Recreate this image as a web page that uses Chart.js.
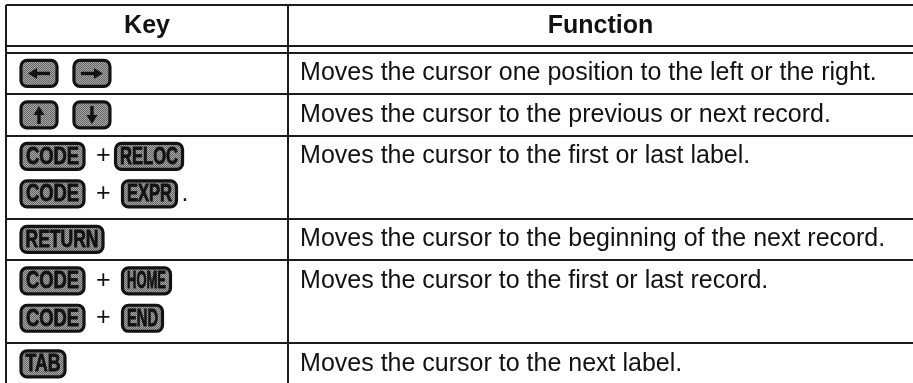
<!DOCTYPE html>
<html>
<head>
<meta charset="utf-8">
<script src="https://cdn.jsdelivr.net/npm/chart.js@4.4.0/dist/chart.umd.min.js"></script>
<style>
  html, body { margin: 0; padding: 0; background: #fff; }
  #wrap { width: 913px; height: 383px; position: relative; }
</style>
</head>
<body>
<div id="wrap"><canvas id="keyTable"></canvas></div>
<script>
// column headers
const headers = ['Key', 'Function'];

// key combos for each row, one string per text line; [..] is a key cap
const keyLines = [
  ['[←] [→]'],
  ['[↑] [↓]'],
  ['[CODE] +[RELOC]', '[CODE] + [EXPR].'],
  ['[RETURN]'],
  ['[CODE] + [HOME]', '[CODE] + [END]'],
  ['[TAB]']
];

// what each row does
const functions = [
  'Moves the cursor one position to the left or the right.',
  'Moves the cursor to the previous or next record.',
  'Moves the cursor to the first or last label.',
  'Moves the cursor to the beginning of the next record.',
  'Moves the cursor to the first or last record.',
  'Moves the cursor to the next label.'
];

// --- layout / style (not data) ---
const HEADER_GAP = 0.15;   // double rule under the header, in line units
const LINE_PITCH = 0.9;    // second text line inside a row
const Y_MAX = 9.11;        // visible line units
const COL_SPLIT = 0.311;   // divider position on the x scale
const KEY_H = 26;
const KEY_MARGIN = 5;
const capWidth = { CODE: 63, RELOC: 67, EXPR: 54, RETURN: 82, HOME: 48, END: 40, TAB: 44,
                   '←': 36, '→': 36, '↑': 36, '↓': 36 };
const TEXT_FONT = '25px "Liberation Sans", Arial, sans-serif';
const HEAD_FONT = 'bold 25px "Liberation Sans", Arial, sans-serif';
const CAP_FONT = 'bold 23px "Liberation Sans", Arial, sans-serif';
const INK = '#121212';

// row boundaries in line units: top, header bottom, double rule, then rows
const boundaries = [0, 1, 1 + HEADER_GAP];
keyLines.forEach(lines => boundaries.push(boundaries[boundaries.length - 1] + lines.length));

// one anchor point per cell (invisible), the plugin draws the contents
const anchors = [];
keyLines.forEach((lines, i) => {
  anchors.push({ x: COL_SPLIT / 2, y: boundaries[i + 2] + 0.5 });
  anchors.push({ x: (1 + COL_SPLIT) / 2, y: boundaries[i + 2] + 0.5 });
});

function ditherPattern(ctx) {
  const c = document.createElement('canvas');
  c.width = 2; c.height = 2;
  const p = c.getContext('2d');
  p.fillStyle = '#a8a8a8'; p.fillRect(0, 0, 2, 2);
  p.fillStyle = '#646464'; p.fillRect(0, 0, 1, 1); p.fillRect(1, 1, 1, 1);
  return ctx.createPattern(c, 'repeat');
}

function capPath(ctx, x, y, w, h, r) {
  ctx.beginPath();
  ctx.moveTo(x + r, y);
  ctx.arcTo(x + w, y, x + w, y + h, r);
  ctx.arcTo(x + w, y + h, x, y + h, r);
  ctx.arcTo(x, y + h, x, y, r);
  ctx.arcTo(x, y, x + w, y, r);
  ctx.closePath();
}

function drawArrow(ctx, cx, cy, dir) {
  const horiz = dir === '←' || dir === '→';
  const len = horiz ? 22 : 18;
  const sign = (dir === '→' || dir === '↓') ? 1 : -1;
  ctx.save();
  ctx.translate(cx, cy);
  if (!horiz) ctx.rotate(Math.PI / 2);
  ctx.strokeStyle = INK; ctx.fillStyle = INK; ctx.lineWidth = 3.4;
  ctx.beginPath();
  ctx.moveTo(-sign * len / 2, 0);
  ctx.lineTo(sign * (len / 2 - 5), 0);
  ctx.stroke();
  ctx.beginPath();
  ctx.moveTo(sign * len / 2, 0);
  ctx.lineTo(sign * (len / 2 - 9), -5.5);
  ctx.lineTo(sign * (len / 2 - 9), 5.5);
  ctx.closePath();
  ctx.fill();
  ctx.restore();
}

function drawCap(ctx, x, cy, label, fill) {
  const w = capWidth[label] || 50;
  const y = cy - KEY_H / 2;
  capPath(ctx, x, y, w, KEY_H, 6);
  ctx.fillStyle = fill;
  ctx.fill();
  ctx.lineWidth = 3.2;
  ctx.strokeStyle = INK;
  ctx.stroke();
  if ('←→↑↓'.includes(label)) {
    drawArrow(ctx, x + w / 2, cy, label);
  } else {
    ctx.font = CAP_FONT;
    const tw = ctx.measureText(label).width;
    const sx = Math.min(0.8, (w - 9) / tw);
    ctx.save();
    ctx.translate(x + w / 2, cy + 1);
    ctx.scale(sx, 1);
    ctx.fillStyle = INK;
    ctx.strokeStyle = INK;
    ctx.lineWidth = 0.8;
    ctx.textAlign = 'center';
    ctx.textBaseline = 'middle';
    ctx.fillText(label, 0, 0);
    ctx.strokeText(label, 0, 0);
    ctx.restore();
  }
  return w;
}

const tableCells = {
  id: 'tableCells',
  afterDraw(chart) {
    const { ctx, chartArea } = chart;
    const xs = chart.scales.x, ys = chart.scales.y;
    const fill = ditherPattern(ctx);
    const splitPx = xs.getPixelForValue(COL_SPLIT);
    ctx.save();

    // header
    ctx.font = HEAD_FONT;
    ctx.fillStyle = INK;
    ctx.textAlign = 'center';
    ctx.textBaseline = 'middle';
    const hy = ys.getPixelForValue(0.5);
    ctx.fillText(headers[0], xs.getPixelForValue(COL_SPLIT / 2), hy);
    ctx.fillText(headers[1], (splitPx + chartArea.right) / 2, hy);

    keyLines.forEach((lines, i) => {
      const top = boundaries[i + 2];
      // function text on the first line
      ctx.font = TEXT_FONT;
      ctx.fillStyle = INK;
      ctx.textAlign = 'left';
      ctx.textBaseline = 'middle';
      ctx.fillText(functions[i], splitPx + 12, ys.getPixelForValue(top + 0.5));

      // key combos
      lines.forEach((line, j) => {
        const cy = ys.getPixelForValue(top + 0.5 + j * LINE_PITCH);
        let x = chartArea.left + 15;
        const re = /\[([^\]]+)\]|([^\[]+)/g;
        let m;
        while ((m = re.exec(line)) !== null) {
          if (m[1]) {
            if (x > chartArea.left + 15) x += KEY_MARGIN;
            x += drawCap(ctx, x, cy, m[1], fill) + KEY_MARGIN;
          } else {
            ctx.font = TEXT_FONT;
            ctx.fillStyle = INK;
            ctx.textAlign = 'left';
            ctx.textBaseline = 'middle';
            ctx.fillText(m[2], x, cy);
            x += ctx.measureText(m[2]).width;
          }
        }
      });
    });
    ctx.restore();
  }
};

const gridStyle = { color: '#1c1c1c', lineWidth: 2, drawTicks: false };

new Chart(document.getElementById('keyTable'), {
  type: 'scatter',
  data: {
    datasets: [{ data: anchors, pointRadius: 0, pointHoverRadius: 0 }]
  },
  options: {
    responsive: true,
    maintainAspectRatio: false,
    animation: false,
    events: [],
    layout: { padding: { top: 5, left: 6, right: 0, bottom: 0 } },
    plugins: { legend: { display: false }, tooltip: { enabled: false } },
    scales: {
      x: {
        type: 'linear', min: 0, max: 1,
        afterBuildTicks: s => { s.ticks = [{ value: 0 }, { value: COL_SPLIT }]; },
        grid: gridStyle,
        ticks: { display: false },
        border: { display: false }
      },
      y: {
        type: 'linear', reverse: true, min: 0, max: Y_MAX,
        afterBuildTicks: s => { s.ticks = boundaries.filter(v => v <= Y_MAX).map(v => ({ value: v })); },
        grid: gridStyle,
        ticks: { display: false },
        border: { display: false }
      }
    }
  },
  plugins: [tableCells]
});
</script>
</body>
</html>
